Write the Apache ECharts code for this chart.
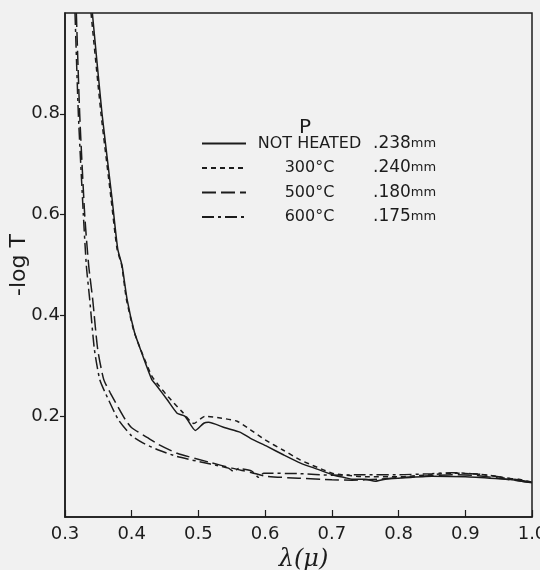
<!DOCTYPE html>
<html>
<head>
<meta charset="utf-8">
<script src="https://cdn.jsdelivr.net/npm/echarts@6/dist/echarts.min.js"></script>
<style>
html,body{margin:0;padding:0;background:#f1f1f1;}
#c{width:540px;height:570px;}
</style>
</head>
<body>
<div id="c"></div>
<script>
// wavelength (micron), -log T
const seriesNames = ['NOT HEATED', '300°C', '500°C', '600°C'];
const thickness = ['.238', '.240', '.180', '.175'];
const xTicks = [0.3, 0.4, 0.5, 0.6, 0.7, 0.8, 0.9, 1.0];
const yTicks = [0.2, 0.4, 0.6, 0.8];

const notHeated = [[0.341,1.0],[0.3555,0.80],[0.3705,0.632],[0.379,0.532],[0.3855,0.499],[0.393,0.4325],[0.404,0.367],[0.413,0.333],[0.43,0.273],[0.438,0.2595],[0.453,0.233],[0.468,0.206],[0.48,0.1996],[0.4954,0.1717],[0.508,0.186],[0.515,0.188],[0.54,0.177],[0.563,0.168],[0.578,0.156],[0.603,0.140],[0.628,0.123],[0.653,0.107],[0.678,0.095],[0.703,0.083],[0.72,0.078],[0.73,0.075],[0.75,0.075],[0.765,0.071],[0.78,0.075],[0.8,0.077],[0.85,0.081],[0.9,0.080],[0.95,0.076],[0.97,0.074],[1.0,0.068]];

const heated300 = [[0.339,1.0],[0.354,0.80],[0.369,0.632],[0.378,0.532],[0.385,0.499],[0.392,0.4325],[0.403,0.37],[0.412,0.337],[0.43,0.28],[0.44,0.262],[0.455,0.238],[0.475,0.2096],[0.493,0.1856],[0.51,0.2],[0.535,0.196],[0.558,0.19],[0.578,0.173],[0.6,0.153],[0.628,0.132],[0.653,0.113],[0.678,0.0986],[0.703,0.086],[0.75,0.08],[0.8,0.08],[0.85,0.084],[0.88,0.087],[0.92,0.085],[0.95,0.08],[0.96,0.077],[0.98,0.075],[1.0,0.069]];

const heated500 = [[0.317,1.0],[0.322,0.80],[0.3295,0.6],[0.3355,0.499],[0.3415,0.432],[0.349,0.333],[0.358,0.273],[0.368,0.246],[0.3905,0.193],[0.4,0.177],[0.423,0.158],[0.44,0.144],[0.468,0.1265],[0.518,0.108],[0.55,0.097],[0.58,0.088],[0.6,0.081],[0.65,0.077],[0.7,0.074],[0.73,0.073],[0.77,0.075],[0.8,0.078],[0.85,0.082],[0.88,0.084],[0.92,0.082],[0.95,0.077],[1.0,0.068]];

const heated600 = [[0.315,1.0],[0.32,0.80],[0.3275,0.6],[0.332,0.499],[0.337,0.432],[0.344,0.333],[0.352,0.273],[0.3605,0.246],[0.38,0.193],[0.4,0.161],[0.418,0.146],[0.44,0.133],[0.468,0.12],[0.518,0.105],[0.545,0.097],[0.553,0.090],[0.56,0.096],[0.58,0.091],[0.59,0.079],[0.598,0.087],[0.65,0.086],[0.7,0.083],[0.75,0.084],[0.8,0.084],[0.85,0.086],[0.88,0.088],[0.92,0.085],[0.95,0.08],[1.0,0.069]];

const ink = '#1c1c1c';
const font = 'DejaVu Sans';
const dashes = ['solid', [5, 4], [14, 5], [12, 4, 3, 4]];
const datasets = [notHeated, heated300, heated500, heated600];

const chart = echarts.init(document.getElementById('c'), null, {renderer: 'canvas'});
chart.setOption({
  backgroundColor: '#f1f1f1',
  animation: false,
  title: {
    text: 'P', left: 294, top: 113,
    textStyle: {fontFamily: font, fontWeight: 'normal', fontSize: 20, color: ink}
  },
  legend: {
    show: true,
    orient: 'vertical', left: 196, top: 130,
    itemWidth: 44, itemHeight: 14, itemGap: 7.5,
    data: seriesNames,
    itemStyle: {opacity: 0, borderWidth: 0},
    formatter: function (name) {
      const i = seriesNames.indexOf(name);
      return '{a|' + name + '}{b|' + thickness[i] + '}{c|mm}';
    },
    textStyle: {
      color: ink, fontFamily: font,
      rich: {
        a: {width: 117, align: 'center', fontSize: 16, fontFamily: font, color: ink},
        b: {fontSize: 17, fontFamily: font, color: ink, padding: [0, 0, 0, 5]},
        c: {fontSize: 13, fontFamily: font, color: ink}
      }
    }
  },
  grid: {
    left: 65, right: 8, top: 13, bottom: 53,
    outerBoundsMode: 'none', containLabel: false,
    show: true, borderColor: ink, borderWidth: 1.5, backgroundColor: 'transparent'
  },
  xAxis: {
    type: 'value', min: 0.3, max: 1.0, interval: 0.1,
    name: 'λ(μ)', nameLocation: 'middle', nameGap: 29,
    nameTextStyle: {fontFamily: 'DejaVu Serif', fontStyle: 'italic', fontSize: 24, color: ink, padding: [0, 0, 0, 10]},
    axisLine: {show: true, lineStyle: {color: ink, width: 1.5}},
    axisTick: {show: true, inside: true, length: 7, lineStyle: {color: ink, width: 1.2}},
    axisLabel: {
      margin: 8, fontFamily: font, fontSize: 18, color: ink,
      customValues: xTicks,
      formatter: v => v.toFixed(1)
    },
    splitLine: {show: false}
  },
  yAxis: {
    type: 'value', min: 0, max: 1.0, interval: 0.2,
    name: '-log T', nameLocation: 'middle', nameGap: 35,
    nameMoveOverlap: false,
    nameTextStyle: {fontFamily: font, fontSize: 22, color: ink},
    axisLine: {show: true, lineStyle: {color: ink, width: 1.5}},
    axisTick: {show: true, inside: false, length: 5, customValues: yTicks, lineStyle: {color: ink, width: 1.2}},
    axisLabel: {
      margin: 5, fontFamily: font, fontSize: 18, color: ink,
      customValues: yTicks,
      formatter: v => v.toFixed(1)
    },
    splitLine: {show: false}
  },
  series: datasets.map((d, i) => ({
    name: seriesNames[i],
    type: 'line',
    data: d,
    symbol: 'none',
    showSymbol: false,
    smooth: 0.2,
    clip: true,
    lineStyle: {color: ink, width: 1.5, type: dashes[i]},
    itemStyle: {color: ink}
  }))
});
</script>
</body>
</html>
